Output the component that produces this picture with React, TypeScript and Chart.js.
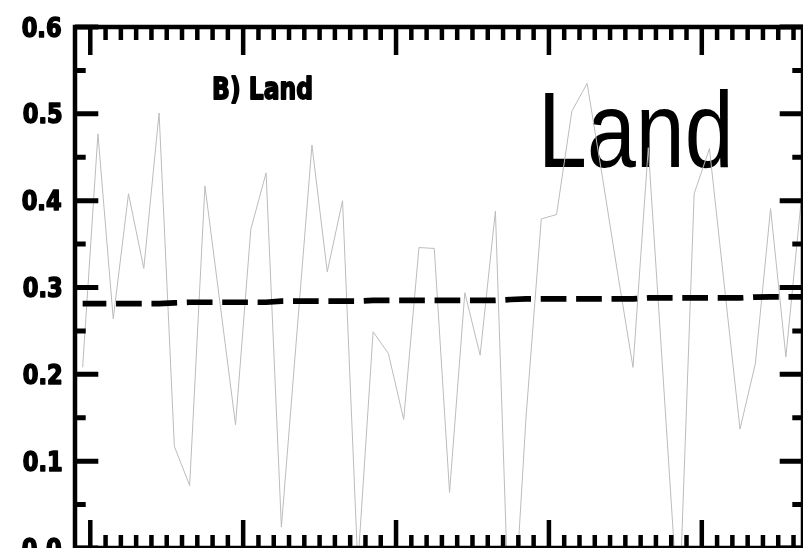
import React, { useEffect, useRef } from "react";
import { Chart, registerables } from "chart.js";

Chart.register(...registerables);

// ---- data ----
const years: number[] = [
  1959, 1960, 1961, 1962, 1963, 1964, 1965, 1966, 1967, 1968,
  1969, 1970, 1971, 1972, 1973, 1974, 1975, 1976, 1977, 1978,
  1979, 1980, 1981, 1982, 1983, 1984, 1985, 1986, 1987, 1988,
  1989, 1990, 1991, 1992, 1993, 1994, 1995, 1996, 1997, 1998,
  1999, 2000, 2001, 2002, 2003, 2004, 2005, 2006,
];

const landValues: number[] = [
  0.208, 0.477, 0.264, 0.408, 0.322, 0.501, 0.117, 0.072, 0.417, 0.280,
  0.142, 0.367, 0.432, 0.024, 0.244, 0.464, 0.318, 0.400, -0.020, 0.249,
  0.224, 0.148, 0.346, 0.345, 0.064, 0.294, 0.222, 0.388, -0.145, 0.150,
  0.379, 0.384, 0.503, 0.535, 0.427, 0.316, 0.208, 0.461, 0.189, -0.083,
  0.408, 0.460, 0.298, 0.137, 0.212, 0.391, 0.220, 0.400,
];

const trendValues: number[] = [
  0.2815, 0.2815, 0.2815, 0.2815, 0.2815, 0.2815, 0.2823, 0.2830, 0.2830, 0.2830,
  0.2830, 0.2830, 0.2830, 0.2842, 0.2842, 0.2842, 0.2842, 0.2842, 0.2842, 0.2852,
  0.2852, 0.2852, 0.2852, 0.2852, 0.2852, 0.2852, 0.2852, 0.2852, 0.2862, 0.2870,
  0.2870, 0.2870, 0.2870, 0.2870, 0.2870, 0.2870, 0.2870, 0.2880, 0.2880, 0.2880,
  0.2880, 0.2880, 0.2880, 0.2880, 0.2890, 0.2892, 0.2892, 0.2892,
];

const yTickLabels: string[] = ["0.0", "0.1", "0.2", "0.3", "0.4", "0.5", "0.6"];
const xMajorYears: number[] = [1960, 1970, 1980, 1990, 2000];
const panelTitle = "B) Land";
const bigLabel = "Land";

// ---- helpers ----
function drawFitted(
  ctx: CanvasRenderingContext2D,
  text: string,
  font: string,
  inkLeft: number,
  inkRight: number,
  inkTop: number,
  baseline: number,
  strokeW: number
) {
  ctx.save();
  ctx.font = font;
  ctx.textAlign = "left";
  ctx.textBaseline = "alphabetic";
  const m = ctx.measureText(text);
  const w = m.actualBoundingBoxLeft + m.actualBoundingBoxRight;
  const h = m.actualBoundingBoxAscent;
  const pad = strokeW / 2;
  const sx = (inkRight - inkLeft - 2 * pad) / w;
  const sy = (baseline - inkTop - pad) / h;
  ctx.translate(inkLeft + pad, baseline);
  ctx.scale(sx, sy);
  ctx.fillStyle = "#000";
  ctx.fillText(text, m.actualBoundingBoxLeft, 0);
  if (strokeW > 0) {
    ctx.strokeStyle = "#000";
    ctx.lineJoin = "round";
    ctx.lineWidth = strokeW / sx;
    ctx.strokeText(text, m.actualBoundingBoxLeft, 0);
  }
  ctx.restore();
}

const framePlugin = {
  id: "idlFrame",
  beforeDatasetsDraw(chart: any) {
    const ctx: CanvasRenderingContext2D = chart.ctx;
    drawFitted(ctx, panelTitle, "bold 24px 'DejaVu Sans'", 213.3, 312.5, 75, 99.3, 1.4);
    drawFitted(ctx, bigLabel, "88px 'Liberation Sans'", 545, 728.7, 89, 166.5, 0);
  },
  afterDatasetsDraw(chart: any) {
    const ctx: CanvasRenderingContext2D = chart.ctx;
    const xs = chart.scales.x;
    const ys = chart.scales.y;
    const { left, right, top, bottom } = chart.chartArea;
    ctx.save();
    ctx.strokeStyle = "#000";
    ctx.lineCap = "butt";

    // x ticks (minor every year, major every decade)
    ctx.lineWidth = 4.5;
    const firstYear = Math.ceil(xs.min);
    const lastYear = Math.floor(xs.max);
    for (let yr = firstYear; yr <= lastYear; yr++) {
      const px = xs.getPixelForValue(yr);
      if (px <= left + 1) continue;
      const major = xMajorYears.includes(yr) || yr % 10 === 0;
      const len = major ? 28 : 13;
      ctx.beginPath();
      ctx.moveTo(px, top);
      ctx.lineTo(px, top + len);
      ctx.moveTo(px, bottom);
      ctx.lineTo(px, bottom - len);
      ctx.stroke();
    }

    // y ticks (minor every 0.05, major every 0.1)
    ctx.lineWidth = 5;
    for (let k = 0; k <= 12; k++) {
      const v = k * 0.05;
      const py = ys.getPixelForValue(v);
      const major = k % 2 === 0;
      const len = major ? 23.3 : 10.7;
      ctx.beginPath();
      ctx.moveTo(left, py);
      ctx.lineTo(left + len, py);
      ctx.moveTo(right, py);
      ctx.lineTo(right - len, py);
      ctx.stroke();
    }

    // frame
    ctx.lineWidth = 4.5;
    ctx.strokeRect(left, top, right - left, bottom - top);
    ctx.restore();

    // y tick labels
    ctx.save();
    const font = "bold 22px 'DejaVu Sans'";
    ctx.font = font;
    const strokeW = 1.4;
    const ref = ctx.measureText("0.0");
    const refW = ref.actualBoundingBoxLeft + ref.actualBoundingBoxRight;
    const refH = ref.actualBoundingBoxAscent;
    const sx = (40 - strokeW) / refW;
    const sy = (20.5 - strokeW) / refH;
    ctx.fillStyle = "#000";
    ctx.strokeStyle = "#000";
    ctx.lineJoin = "round";
    ctx.textAlign = "left";
    ctx.textBaseline = "alphabetic";
    for (const lab of yTickLabels) {
      const v = parseFloat(lab);
      const py = ys.getPixelForValue(v);
      const m = ctx.measureText(lab);
      const w = (m.actualBoundingBoxLeft + m.actualBoundingBoxRight) * sx;
      const inkRight = 62 - strokeW / 2;
      const inkLeft = inkRight - w;
      ctx.save();
      ctx.translate(inkLeft, py + (20.5 - strokeW) / 2);
      ctx.scale(sx, sy);
      ctx.lineWidth = strokeW / sx;
      ctx.fillText(lab, m.actualBoundingBoxLeft, 0);
      ctx.strokeText(lab, m.actualBoundingBoxLeft, 0);
      ctx.restore();
    }
    ctx.restore();
  },
};

export default function App() {
  const canvasRef = useRef<HTMLCanvasElement | null>(null);

  useEffect(() => {
    const canvas = canvasRef.current;
    if (!canvas) return;
    const chart = new Chart(canvas, {
      type: "line",
      data: {
        datasets: [
          {
            label: "trend",
            data: years.map((yr, i) => ({ x: yr + 0.5, y: trendValues[i] })),
            borderColor: "#000000",
            borderWidth: 5.7,
            borderDash: [25.7, 9.7],
            borderDashOffset: 2,
            borderCapStyle: "butt",
            pointRadius: 0,
            fill: false,
            tension: 0,
          },
          {
            label: "land",
            data: years.map((yr, i) => ({ x: yr + 0.5, y: landValues[i] })),
            borderColor: "#bcbcbc",
            borderWidth: 1,
            pointRadius: 0,
            fill: false,
            tension: 0,
          },
        ],
      },
      options: {
        responsive: false,
        animation: false,
        devicePixelRatio: 1,
        events: [],
        layout: { padding: { left: 75, right: -3, top: 27, bottom: -1 } },
        plugins: {
          legend: { display: false },
          tooltip: { enabled: false },
          title: { display: false },
        },
        scales: {
          x: { type: "linear", min: 1959, max: 2006.62, display: false },
          y: { type: "linear", min: 0, max: 0.6, display: false },
        },
      },
      plugins: [framePlugin],
    } as any);
    return () => chart.destroy();
  }, []);

  return (
    <div
      style={{
        position: "fixed",
        left: 0,
        top: 0,
        width: 803,
        height: 548,
        background: "#fff",
        overflow: "hidden",
      }}
    >
      <canvas ref={canvasRef} width={803} height={548} style={{ display: "block" }} />
    </div>
  );
}
